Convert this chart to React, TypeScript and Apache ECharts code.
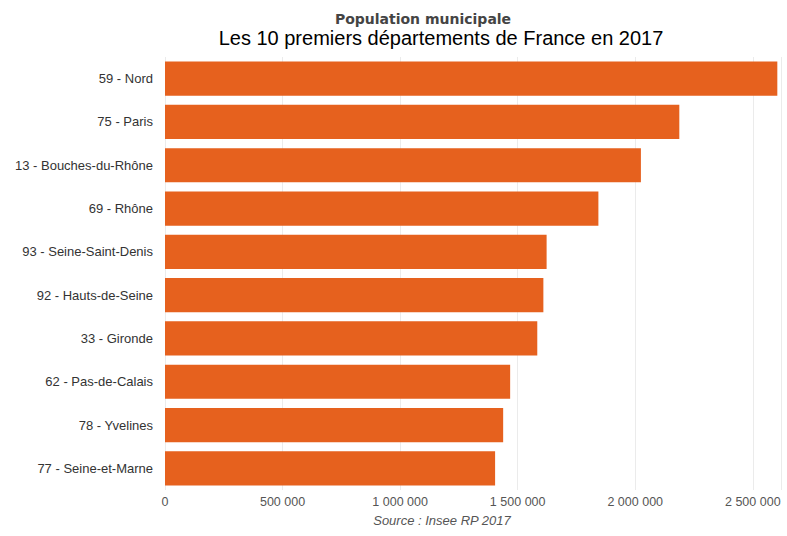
import React, { useEffect, useRef } from "react";
import * as echarts from "echarts";

const categories = [
  "59 - Nord",
  "75 - Paris",
  "13 - Bouches-du-Rhône",
  "69 - Rhône",
  "93 - Seine-Saint-Denis",
  "92 - Hauts-de-Seine",
  "33 - Gironde",
  "62 - Pas-de-Calais",
  "78 - Yvelines",
  "77 - Seine-et-Marne",
];

const population = [
  2604361, 2187526, 2024162, 1843319, 1623111, 1609306, 1583384, 1468018,
  1438266, 1403997,
];

const titleText = "Population municipale";
const subtitleText = "Les 10 premiers départements de France en 2017";
const sourceText = "Source : Insee RP 2017";

const formatNumber = (v: number) =>
  String(v).replace(/\B(?=(\d{3})+(?!\d))/g, " ");

export default function App() {
  const ref = useRef<HTMLDivElement>(null);

  useEffect(() => {
    if (!ref.current) return;
    const chart = echarts.init(ref.current, undefined, { renderer: "svg" });
    chart.setOption({
      animation: false,
      backgroundColor: "#ffffff",
      title: [
        {
          text: titleText,
          left: 418,
          top: 7,
          textAlign: "center",
          textStyle: {
            fontFamily: "DejaVu Sans",
            fontWeight: "bold",
            fontSize: 14,
            color: "#444444",
          },
        },
        {
          text: subtitleText,
          left: 436,
          top: 23,
          textAlign: "center",
          textStyle: {
            fontFamily: "Liberation Sans",
            fontWeight: "normal",
            fontSize: 20,
            color: "#000000",
          },
        },
        {
          text: sourceText,
          left: 437,
          top: 509,
          textAlign: "center",
          textStyle: {
            fontFamily: "Liberation Sans",
            fontStyle: "italic",
            fontWeight: "normal",
            fontSize: 13,
            color: "#555555",
          },
        },
      ],
      grid: {
        left: 165,
        right: 6,
        top: 57,
        bottom: 46,
        containLabel: false,
      },
      xAxis: {
        type: "value",
        min: 0,
        max: 2620000,
        interval: 500000,
        axisLine: { show: false },
        axisTick: { show: false },
        splitLine: { show: true, lineStyle: { color: "#ebebeb", width: 1 } },
        axisLabel: {
          margin: 5,
          fontFamily: "Liberation Sans",
          fontSize: 12.5,
          color: "#555555",
          formatter: (v: number) => formatNumber(v),
          showMaxLabel: false,
        },
      },
      yAxis: {
        type: "category",
        data: categories,
        inverse: true,
        axisLine: { show: false },
        axisTick: { show: false },
        axisLabel: {
          margin: 12,
          fontFamily: "Liberation Sans",
          fontSize: 13,
          color: "#333333",
        },
      },
      series: [
        {
          type: "bar",
          data: population,
          barCategoryGap: "21%",
          itemStyle: { color: "#E6611E" },
        },
      ],
    });
    return () => chart.dispose();
  }, []);

  return (
    <div
      ref={ref}
      style={{ position: "absolute", left: 0, top: 0, width: 787, height: 536 }}
    />
  );
}
